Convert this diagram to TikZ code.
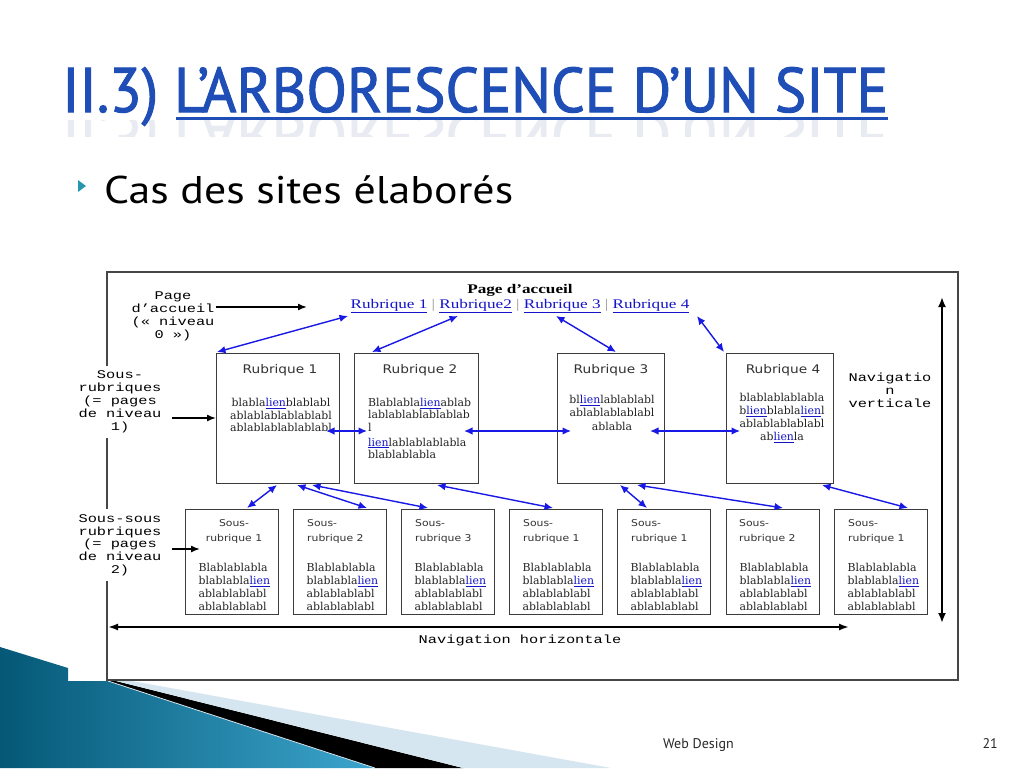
\documentclass[tikz,border=0pt]{standalone}
\usepackage{fontspec}
\usepackage{graphicx}
\usetikzlibrary{arrows.meta}
\newfontfamily\slidefont{PT Sans}
\newfontfamily\titlefont[FakeBold=1.6]{PT Sans}
\newfontfamily\serifw[FakeStretch=1.3]{Liberation Serif}
\newfontfamily\bodyserif{DejaVu Serif}
\newfontfamily\monow[FakeStretch=1.3]{Liberation Mono}
\newfontfamily\headw[FakeStretch=1.15]{DejaVu Sans}
\definecolor{titleblue}{RGB}{30,78,182}
\definecolor{reflgray}{RGB}{232,236,242}
\definecolor{bulletteal}{RGB}{40,150,175}
\definecolor{linkblue}{RGB}{20,20,200}
\definecolor{arrowblue}{RGB}{25,25,230}
\definecolor{boxgray}{RGB}{60,60,60}
\definecolor{framegray}{RGB}{70,70,70}
\definecolor{bodytext}{RGB}{35,35,35}
\definecolor{headgray}{RGB}{50,50,50}
\definecolor{sepgray}{RGB}{150,150,150}
\definecolor{pale}{RGB}{214,230,240}
\definecolor{footgray}{RGB}{40,40,40}
\definecolor{wedgeA}{RGB}{5,88,118}
\definecolor{wedgeB}{RGB}{60,165,205}
\newcommand{\lk}[1]{\textcolor{linkblue}{\underline{#1}}}
\tikzset{
  rbox/.style={draw=boxgray, line width=1.2pt, fill=white, inner sep=0pt, anchor=north west},
  sbox/.style={draw=boxgray, line width=1.2pt, fill=white, inner sep=0pt, anchor=north west, minimum width=93pt, minimum height=105pt},
  barrow/.style={draw=arrowblue, line width=1.4pt, {Latex[length=8.5pt,width=7.5pt]}-{Latex[length=8.5pt,width=7.5pt]}},
  karrow/.style={draw=black, line width=1.5pt, -{Latex[length=9pt,width=7pt]}},
  lbl/.style={font=\monow\fontsize{11.8}{12.9}\selectfont, align=center, inner sep=0pt},
  body/.style={font=\bodyserif\fontsize{10.9}{12.8}\selectfont, inner sep=0pt, text=bodytext},
  head/.style={font=\headw\fontsize{11.9}{14}\selectfont, inner sep=0pt, text=headgray, anchor=base},
  subhead/.style={font=\headw\fontsize{9.4}{15}\selectfont, inner sep=0pt, text=headgray},
}
\newcommand{\subbox}[6]{%
  \node[sbox] (#1) at (#2,509) {};
  \begin{scope}
    \clip (#2,509) rectangle (#2+93,612);
    \node[body, anchor=north west, align=left, font=\bodyserif\fontsize{10.9}{13}\selectfont] (#1b) at (#2+13.5,563.3)
      {Blablablabla\\blablabla\lk{lien}\\ablablablabl\\ablablablabl};
  \end{scope}
  \node[subhead, anchor=#5, align=#6] (#1h) at (#2+#4,519.3) {Sous-\\rubrique #3};
}
\begin{document}
\begin{tikzpicture}[x=1pt,y=-1pt]
\useasboundingbox (0,0) rectangle (1024,768);
\fill[white] (0,0) rectangle (1024,768);

% bottom-left decoration
\shade[left color=wedgeA, right color=wedgeB] (0,647) -- (68,668) -- (68,681) -- (108,681) -- (375,768) -- (0,768) -- cycle;
\fill[black] (108,681) -- (116,681) -- (463,768) -- (375,768) -- cycle;
\fill[pale] (116,681) -- (132,681) -- (611,768) -- (463,768) -- cycle;
\draw[pale, line width=0.8pt] (108,681) -- (375,768);

% title
\begin{scope}
  \clip (55,120) rectangle (895,136);
  \node[anchor=base west, inner sep=0pt, text=reflgray,
        font=\titlefont\fontsize{63}{63}\selectfont] (titlerefl) at (62,114)
    {\scalebox{1}[-1]{\resizebox{826pt}{\height}{II.3) L’ARBORESCENCE D’UN SITE}}};
\end{scope}
\node[anchor=base west, inner sep=0pt, text=titleblue,
      font=\titlefont\fontsize{63}{63}\selectfont] (title) at (62,112)
  {\resizebox{826pt}{\height}{II.3) L’ARBORESCENCE D’UN SITE}};
\draw[titleblue, line width=3pt] (176,118) -- (888,118);

% bullet
\fill[bulletteal] (78,180) -- (86,186) -- (78,192) -- cycle;
\node[anchor=base west, inner sep=0pt, font=\slidefont\fontsize{38.6}{40}\selectfont] (bullet) at (104,203)
  {\resizebox{409pt}{\height}{Cas des sites élaborés}};

% diagram frame
\draw[framegray, line width=1.2pt] (107,272) rectangle (958,680);

% top page
\node[anchor=base, inner sep=0pt, font=\serifw\bfseries\fontsize{13.2}{15}\selectfont] (home) at (520,293) {Page d’accueil};
\node[anchor=base, inner sep=0pt, font=\serifw\fontsize{13.2}{15}\selectfont] (links) at (520,308)
  {\lk{Rubrique 1} \textcolor{sepgray}{|} \lk{Rubrique2} \textcolor{sepgray}{|} \lk{Rubrique 3} \textcolor{sepgray}{|} \lk{Rubrique 4}};

% left labels
\node[lbl, anchor=north] (lab0) at (173,291.5) {Page\\d’accueil\\(« niveau\\0 »)};
\node[lbl, anchor=north, fill=white, inner sep=5pt] (lab1) at (120,365.7) {Sous-\\rubriques\\(= pages\\de niveau\\1)};
\node[lbl, anchor=north, fill=white, inner sep=5pt] (lab2) at (120,509) {Sous-sous\\rubriques\\(= pages\\de niveau\\2)};
\node[lbl, anchor=north] (navv) at (890,372.7) {Navigatio\\n\\verticale};
\node[lbl, anchor=base] (navh) at (520,643) {Navigation horizontale};

% rubrique boxes
\node[rbox, minimum width=123pt, minimum height=130pt] (R1) at (216,353) {};
\node[rbox, minimum width=124pt, minimum height=130pt] (R2) at (354,353) {};
\node[rbox, minimum width=107pt, minimum height=130pt] (R3) at (557,353) {};
\node[rbox, minimum width=107pt, minimum height=130pt] (R4) at (726,353) {};
\node[head] (R1h) at (280,373) {Rubrique 1};
\node[head] (R2h) at (420,373) {Rubrique 2};
\node[head] (R3h) at (611,373) {Rubrique 3};
\node[head] (R4h) at (783,373) {Rubrique 4};
\node[body, anchor=north, align=center, font=\bodyserif\fontsize{10.9}{12.5}\selectfont] (R1b) at (281,398.3)
  {blabla\lk{lien}blablabl\\ablablablablablabl\\ablablablablablabl};
\node[body, anchor=north west, align=left] (R2b) at (368,397.7)
  {Blablabla\lk{lien}ablab\\lablablablablablab\\l\\[1.5pt]\lk{lien}lablablablabla\\blablablabla};
\node[body, anchor=north, align=center, font=\bodyserif\fontsize{10.9}{13.3}\selectfont] (R3b) at (612,395)
  {bl\lk{lien}lablablabl\\ablablablablabl\\ablabla};
\node[body, anchor=north, align=center, font=\bodyserif\fontsize{10.9}{13}\selectfont] (R4b) at (782,392.7)
  {blablablablabla\\b\lk{lien}blabla\lk{lien}l\\ablablablablabl\\ab\lk{lien}la};

% sub-rubrique boxes
\subbox{S1}{185}{1}{49}{north}{center}
\subbox{S2}{293}{2}{14}{north west}{left}
\subbox{S3}{401}{3}{14}{north west}{left}
\subbox{S4}{509}{1}{14}{north west}{left}
\subbox{S5}{617}{1}{14}{north west}{left}
\subbox{S6}{726}{2}{13}{north west}{left}
\subbox{S7}{834}{1}{14}{north west}{left}

% black arrows
\coordinate (p0) at (216,307);
\coordinate (p1) at (307,307);
\draw[karrow] (p0) -- (p1);
\coordinate (q0) at (172,418);
\draw[karrow] (q0) -- (q0 -| R1.west);
\coordinate (t0) at (172,549);
\coordinate (t1) at (200,549);
\draw[karrow] (t0) -- (t1);
\coordinate (vt) at (942,297);
\coordinate (vb) at (942,623);
\draw[draw=black, line width=2.4pt, {Latex[length=10pt,width=8pt]}-{Latex[length=10pt,width=8pt]}] (vt) -- (vb);
\coordinate (hl) at (108,627);
\coordinate (hr) at (849,627);
\draw[draw=black, line width=1.8pt, {Latex[length=10pt,width=7pt]}-{Latex[length=10pt,width=7pt]}] (hl) -- (hr);

% blue arrows: links to rubriques
\coordinate (L1) at (348,316); \coordinate (R1a) at (217,352);
\coordinate (L2) at (458,316); \coordinate (R2a) at (372,352);
\coordinate (L3) at (556,316); \coordinate (R3a) at (616,352);
\coordinate (L4) at (697,316); \coordinate (R4a) at (724,352);
\draw[barrow] (L1) -- (R1a);
\draw[barrow] (L2) -- (R2a);
\draw[barrow] (L3) -- (R3a);
\draw[barrow] (L4) -- (R4a);

% blue arrows: between rubriques
\coordinate (h1a) at (326,431); \coordinate (h1b) at (367,431);
\coordinate (h2a) at (464,431); \coordinate (h2b) at (571,431);
\coordinate (h3a) at (650,431); \coordinate (h3b) at (740,431);
\draw[barrow] (h1a) -- (h1b);
\draw[barrow] (h2a) -- (h2b);
\draw[barrow] (h3a) -- (h3b);

% blue arrows: rubriques to sub-rubriques
\coordinate (b1a) at (277,485); \coordinate (b1b) at (247,508);
\coordinate (b2a) at (297,485); \coordinate (b2b) at (367,508);
\coordinate (b3a) at (312,485); \coordinate (b3b) at (428,508);
\coordinate (b4a) at (437,485); \coordinate (b4b) at (553,508);
\coordinate (b5a) at (620,485); \coordinate (b5b) at (647,508);
\coordinate (b6a) at (637,485); \coordinate (b6b) at (783,508);
\coordinate (b7a) at (822,485); \coordinate (b7b) at (908,508);
\foreach \i in {1,...,7} { \draw[barrow] (b\i a) -- (b\i b); }

% footer
\node[anchor=base west, inner sep=0pt, text=footgray, font=\slidefont\fontsize{14}{14}\selectfont] (foot) at (663,748) {Web Design};
\node[anchor=base east, inner sep=0pt, text=footgray, font=\slidefont\fontsize{14}{14}\selectfont] (pnum) at (998,748) {21};
\end{tikzpicture}
\end{document}
